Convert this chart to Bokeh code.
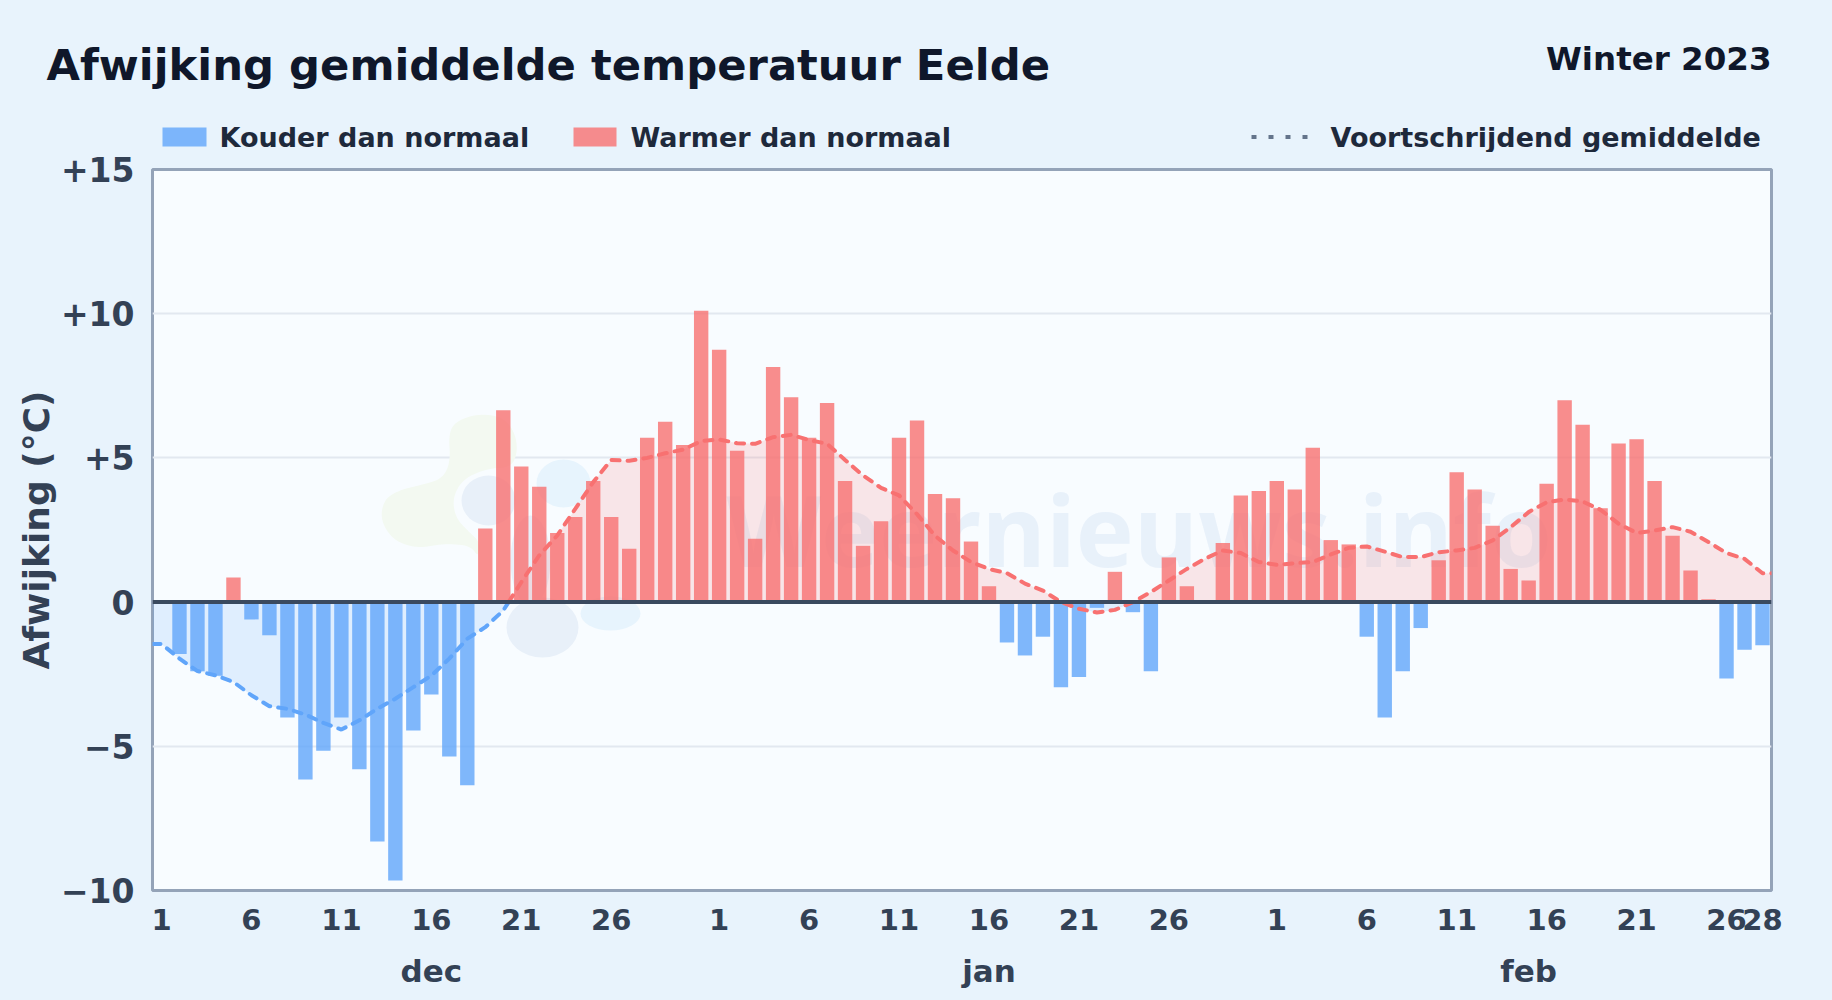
import numpy as np
from bokeh.embed import file_html
from bokeh.layouts import column
from bokeh.resources import INLINE
from bokeh.plotting import figure
from bokeh.core.properties import value
from bokeh.models import (ColumnDataSource, FixedTicker, Label, LinearAxis, Span, Range1d)

# ---- data ----
dec_vals = [0, -1.8, -2.4, -2.55, 0.85, -0.6, -1.15, -4.0, -6.15, -5.15, -4.0, -5.8, -8.3, -9.65,
            -4.45, -3.2, -5.35, -6.35, 2.55, 6.65, 4.7, 4.0, 2.4, 2.95, 4.2, 2.95, 1.85, 5.7, 6.25, 5.45, 10.1]
jan_vals = [8.75, 5.25, 2.2, 8.15, 7.1, 5.7, 6.9, 4.2, 1.95, 2.8, 5.7, 6.3, 3.75, 3.6, 2.1, 0.55,
            -1.4, -1.85, -1.2, -2.95, -2.6, -0.2, 1.05, -0.35, -2.4, 1.55, 0.55, -0.05, 2.05, 3.7, 3.85]
feb_vals = [4.2, 3.9, 5.35, 2.15, 2.0, -1.2, -4.0, -2.4, -0.9, 1.45, 4.5, 3.9, 2.65, 1.15, 0.75, 4.1,
            7.0, 6.15, 3.25, 5.5, 5.65, 4.2, 2.3, 1.1, 0.1, -2.65, -1.65, -1.5]
dec_avg = [-1.45, -1.96, -2.39, -2.54, -2.77, -3.23, -3.61, -3.7, -3.9, -4.19, -4.42, -4.1, -3.7, -3.35,
           -2.95, -2.55, -1.96, -1.27, -0.87, -0.29, 0.69, 1.62, 2.31, 3.23, 4.16, 4.93, 4.9, 5.0, 5.16, 5.29, 5.58]
jan_avg = [5.64, 5.51, 5.49, 5.72, 5.8, 5.62, 5.49, 4.93, 4.39, 3.96, 3.7, 3.05, 2.3, 1.79, 1.39, 1.15,
           1.0, 0.64, 0.4, 0.0, -0.23, -0.36, -0.27, 0.0, 0.35, 0.75, 1.15, 1.5, 1.79, 1.7, 1.39]
feb_avg = [1.29, 1.35, 1.39, 1.65, 1.88, 1.93, 1.75, 1.56, 1.56, 1.73, 1.79, 1.88, 2.14, 2.6, 3.12, 3.46,
           3.56, 3.49, 3.2, 2.72, 2.4, 2.48, 2.6, 2.44, 2.08, 1.7, 1.5, 1.0]
month_names = ["dec", "jan", "feb"]
month_lengths = [31, 31, 28]
day_ticks = [[1, 6, 11, 16, 21, 26], [1, 6, 11, 16, 21, 26], [1, 6, 11, 16, 21, 26, 28]]
month_label_day = [16, 16, 15]
y_ticks = [-10, -5, 0, 5, 10, 15]
y_labels = ["\u221210", "\u22125", "0", "+5", "+10", "+15"]
title_text = "Afwijking gemiddelde temperatuur Eelde"
season_text = "Winter 2023"
legend_texts = ["Kouder dan normaal", "Warmer dan normaal", "Voortschrijdend gemiddelde"]

# ---- colours / layout ----
BG = "#e8f3fc"
PLOT_BG = "#f8fcff"
BLUE, RED = "#60a5fa", "#f87171"
W, PAGE_H, HEAD_H = 1832, 1000, 152
L, R, T, B = 152, 61, 17, 110
FW, FH = W - L - R, PAGE_H - HEAD_H - T - B
FRAME_TOP = HEAD_H + T

vals = np.array(dec_vals + jan_vals + feb_vals)
avg = np.array(dec_avg + jan_avg + feb_avg)
xs = np.arange(len(vals))
offsets = np.cumsum([0] + month_lengths[:-1])

p = figure(width=W, height=PAGE_H - HEAD_H, output_backend="svg", toolbar_location=None,
           x_range=Range1d(-0.5, len(vals) - 0.5), y_range=Range1d(-10, 15),
           min_border_left=L, min_border_right=R, min_border_top=T, min_border_bottom=B,
           background_fill_color=PLOT_BG, border_fill_color=BG)
p.outline_line_color = "#94a3b8"
p.outline_line_width = 3

def to_x(px):
    return (px - L) / FW * len(vals) - 0.5
def to_y(py):
    return 15 - (py - FRAME_TOP) / FH * 25
def dx(px):
    return px / FW * len(vals)
def dy(py):
    return py / FH * 25
def smooth(points, rounds=3):
    pts = np.array(points, dtype=float)
    for _ in range(rounds):
        nxt = np.roll(pts, -1, axis=0)
        pts = np.column_stack([0.75 * pts + 0.25 * nxt, 0.25 * pts + 0.75 * nxt]).reshape(-1, 2)
    return pts

# watermark: logo shapes and word mark, behind everything
green_outline = [(448, 433), (456, 420), (480, 413), (503, 417), (515, 433), (517, 453), (510, 467),
                 (487, 468), (463, 478), (452, 497), (455, 517), (467, 530), (480, 542), (478, 557),
                 (470, 545), (443, 543), (417, 548), (393, 540), (380, 520), (383, 500), (397, 490),
                 (427, 483), (443, 477), (450, 460)]
g = smooth(green_outline)
p.patch(to_x(g[:, 0]), to_y(g[:, 1]), fill_color="#f3f9f1", line_color=None)
blobs = [(488, 500, 54, 50, "#e8f0f9"), (542, 627, 72, 60, "#e8f0f9"), (530, 560, 40, 90, "#e8f0f9"),
         (563, 483, 54, 48, "#e7f4fd"), (610, 613, 60, 34, "#e7f4fd")]
for bx, by, bw, bh, bc in blobs:
    p.ellipse(x=[to_x(bx)], y=[to_y(by)], width=[dx(bw)], height=[dy(bh)], fill_color=bc, line_color=None)
p.text(x=[to_x(726)], y=[to_y(528)], text=["Weernieuws.info"], text_font=value("Open Sans"),
       text_font_style="bold", text_font_size="98px", text_color="#dbe8f5", text_alpha=0.55,
       text_baseline="alphabetic", text_align="left")

# area and moving-average line split at zero
ax = [xs[0] - 0.5] + list(xs) + [xs[-1] + 0.5]
ay = [avg[0]] + list(avg) + [avg[-1]]
dense_x, dense_y, pieces = [ax[0]], [ay[0]], [[(ax[0], ay[0])]]
for i in range(1, len(ax)):
    x0, y0, x1, y1 = ax[i - 1], ay[i - 1], ax[i], ay[i]
    if y0 * y1 < 0:
        xc = x0 + (x1 - x0) * (-y0) / (y1 - y0)
        dense_x.append(xc)
        dense_y.append(0.0)
        pieces[-1].append((xc, 0.0))
        pieces.append([(xc, 0.0)])
    dense_x.append(x1)
    dense_y.append(y1)
    pieces[-1].append((x1, y1))
dense_x = np.array(dense_x)
dense_y = np.array(dense_y)
p.varea(x=dense_x, y1=np.zeros_like(dense_y), y2=np.minimum(dense_y, 0), fill_color=BLUE, fill_alpha=0.16)
p.varea(x=dense_x, y1=np.zeros_like(dense_y), y2=np.maximum(dense_y, 0), fill_color=RED, fill_alpha=0.16)

neg = ColumnDataSource(dict(x=xs[vals < 0], top=vals[vals < 0]))
pos = ColumnDataSource(dict(x=xs[vals > 0], top=vals[vals > 0]))
p.vbar(x="x", top="top", bottom=0, width=0.8, source=neg, fill_color=BLUE, fill_alpha=0.8, line_color=None)
p.vbar(x="x", top="top", bottom=0, width=0.8, source=pos, fill_color=RED, fill_alpha=0.8, line_color=None)

for piece in pieces:
    px_, py_ = zip(*piece)
    col = BLUE if np.mean(py_) < 0 else RED
    p.line(list(px_), list(py_), line_color=col, line_width=4, line_dash="8 8", line_cap="round")

p.add_layout(Span(location=0, dimension="width", line_color="#3a4a5f", line_width=4))

# axes
tick_pos, tick_over = [], {}
for off, days in zip(offsets, day_ticks):
    for d in days:
        tick_pos.append(int(off + d - 1))
        tick_over[int(off + d - 1)] = str(d)
xa = p.xaxis[0]
xa.ticker = FixedTicker(ticks=tick_pos)
xa.major_label_overrides = tick_over
month_pos = [int(o + d - 1) for o, d in zip(offsets, month_label_day)]
xa2 = LinearAxis(ticker=FixedTicker(ticks=month_pos),
                 major_label_overrides=dict(zip(month_pos, month_names)))
p.add_layout(xa2, "below")
for a in (xa, xa2):
    a.axis_line_color = None
    a.major_tick_line_color = None
    a.minor_tick_line_color = None
    a.major_label_text_font = "DejaVu Sans"
    a.major_label_text_font_style = "bold"
    a.major_label_text_color = "#334155"
xa.major_label_text_font_size = "29px"
xa2.major_label_text_font_size = "31px"
xa.major_label_standoff = 12
xa2.major_label_standoff = 14

ya = p.yaxis[0]
ya.ticker = FixedTicker(ticks=y_ticks)
ya.major_label_overrides = dict(zip(y_ticks, y_labels))
ya.axis_line_color = None
ya.major_tick_line_color = None
ya.minor_tick_line_color = None
ya.major_label_text_font = "DejaVu Sans"
ya.major_label_text_font_style = "bold"
ya.major_label_text_font_size = "33px"
ya.major_label_text_color = "#334155"
ya.major_label_standoff = 12
ya.axis_label = "Afwijking (\u00b0C)"
ya.axis_label_text_font = "DejaVu Sans"
ya.axis_label_text_font_style = "bold"
ya.axis_label_text_font_size = "36px"
ya.axis_label_text_color = "#334155"
ya.axis_label_standoff = 1

p.xgrid.visible = False
p.ygrid.ticker = FixedTicker(ticks=[-5, 5, 10])
p.ygrid.grid_line_color = "#e2e8f0"
p.ygrid.grid_line_width = 2

# header strip: title, season and legend row
hd = figure(width=W, height=HEAD_H, output_backend="svg", toolbar_location=None,
            x_range=Range1d(0, W), y_range=Range1d(HEAD_H, 0),
            x_axis_location=None, y_axis_location=None,
            min_border=0, background_fill_color=BG, border_fill_color=BG)
hd.grid.visible = False
hd.outline_line_color = None

def head_text(x, y, text, size, color, align="left"):
    hd.add_layout(Label(x=x, y=y, text=text, text_font="DejaVu Sans", text_font_style="bold",
                        text_font_size=size, text_color=color, text_align=align, text_baseline="alphabetic"))

head_text(46, 64, title_text, "43.3px", "#0f172a")
head_text(1771, 58, season_text, "32.5px", "#0f172a", "right")
hd.quad(left=[162], right=[206], top=[127], bottom=[146], fill_color=BLUE, fill_alpha=0.8, line_color=None)
hd.quad(left=[573], right=[616], top=[127], bottom=[146], fill_color=RED, fill_alpha=0.8, line_color=None)
hd.line([1251, 1308], [136.5, 136.5], line_color="#64748b", line_width=4, line_dash="5 12")
head_text(219, 137, legend_texts[0], "27px", "#1e293b")
head_text(630, 137, legend_texts[1], "27px", "#1e293b")
head_text(1330, 137, legend_texts[2], "27px", "#1e293b")

layout = column(column(hd), column(p), spacing=0)
html = file_html(layout, INLINE)
html = html.replace("<head>", f"<head><style>html,body{{background:{BG};overflow:hidden}}</style>", 1)
open("out.html", "w").write(html)
